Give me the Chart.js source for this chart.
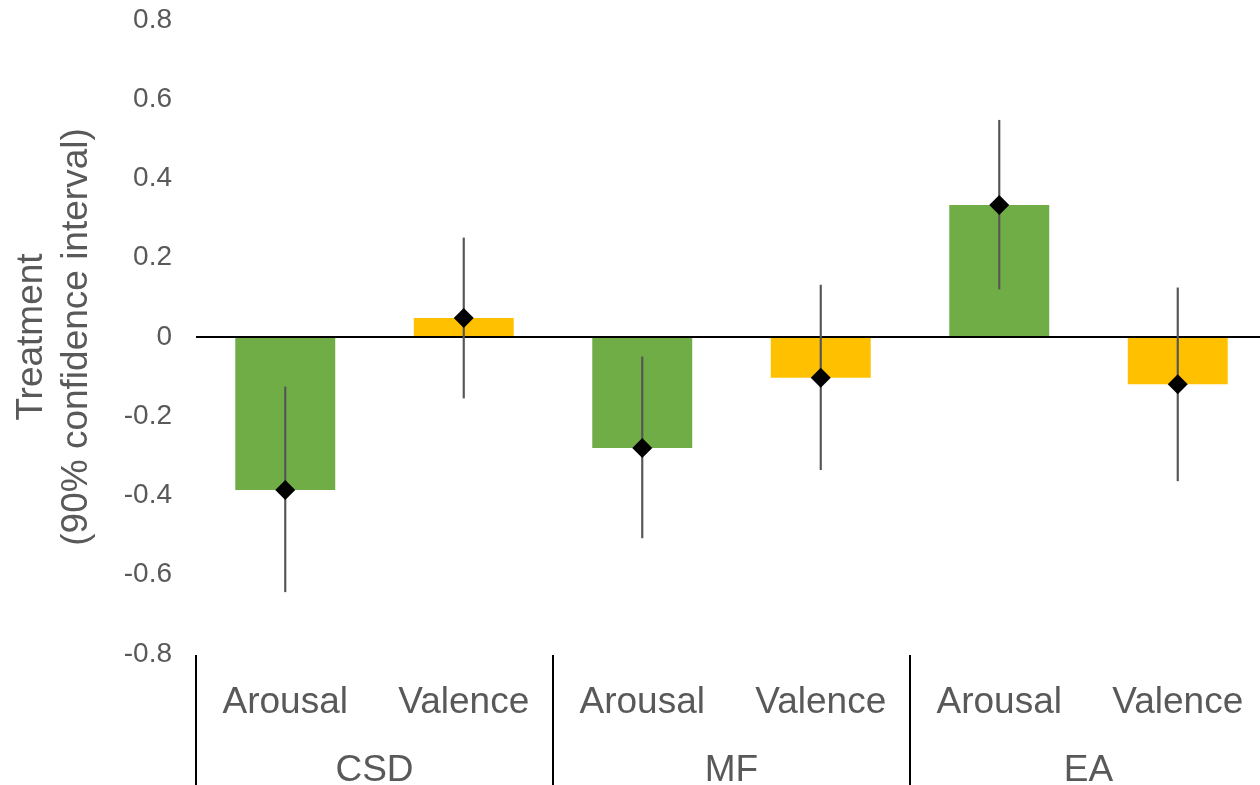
<!DOCTYPE html>
<html>
<head>
<meta charset="utf-8">
<script src="https://cdn.jsdelivr.net/npm/chart.js@4.4.1/dist/chart.umd.min.js"></script>
<style>
  html, body { margin: 0; padding: 0; overflow: hidden; background: #fff; }
  #wrap { width: 1268px; height: 785px; }
</style>
</head>
<body>
<div id="wrap"><canvas id="myChart" width="1268" height="785"></canvas></div>
<script>
// data
const measures = ['Arousal', 'Valence', 'Arousal', 'Valence', 'Arousal', 'Valence'];
const groups = ['CSD', 'MF', 'EA'];
const estimates = [-0.386, 0.048, -0.280, -0.103, 0.333, -0.119];
const ciLow = [-0.643, -0.154, -0.507, -0.335, 0.121, -0.363];
const ciHigh = [-0.126, 0.250, -0.050, 0.131, 0.547, 0.124];
const yTicks = [-0.8, -0.6, -0.4, -0.2, 0, 0.2, 0.4, 0.6, 0.8];

const GREEN = '#70AD47';
const YELLOW = '#FFC000';
const TEXT = '#595959';
const FONT = "'Liberation Sans', Arial, sans-serif";

// vertical separators between the groups, below the plot
const groupDividers = {
    id: 'groupDividers',
    afterDraw(chart) {
        const x2 = chart.scales.x2;
        const ctx = chart.ctx;
        const step = (x2.right - x2.left) / groups.length;
        ctx.save();
        ctx.strokeStyle = '#000';
        ctx.lineWidth = 2;
        for (let i = 0; i <= groups.length; i++) {
            const px = Math.round(x2.left + step * i);
            ctx.beginPath();
            ctx.moveTo(px, chart.chartArea.bottom + 1);
            ctx.lineTo(px, chart.height);
            ctx.stroke();
        }
        ctx.restore();
    }
};

function fixXAxis(height) {
    return scale => {
        scale.height = height;
        scale.paddingLeft = 0;
        scale.paddingRight = 0;
    };
}

const ctx = document.getElementById('myChart').getContext('2d');
new Chart(ctx, {
    type: 'bar',
    data: {
        labels: measures,
        datasets: [
            {
                type: 'line',
                label: 'Estimate',
                data: estimates,
                showLine: false,
                pointStyle: 'rectRot',
                pointRadius: 10,
                pointBackgroundColor: '#000',
                pointBorderColor: '#000',
                pointBorderWidth: 0,
                order: 0
            },
            {
                label: '90% CI',
                data: ciLow.map((lo, i) => [lo, ciHigh[i]]),
                backgroundColor: '#555',
                barThickness: 1.5,
                grouped: false,
                order: 1
            },
            {
                label: 'Treatment',
                data: estimates,
                backgroundColor: measures.map(m => m === 'Arousal' ? GREEN : YELLOW),
                categoryPercentage: 1,
                barPercentage: 0.56,
                grouped: false,
                order: 2
            }
        ]
    },
    options: {
        responsive: false,
        animation: false,
        layout: { autoPadding: false, padding: { top: 20, right: 1, left: 0, bottom: 0 } },
        plugins: {
            legend: { display: false },
            tooltip: { enabled: false }
        },
        scales: {
            y: {
                min: -0.8,
                max: 0.8,
                z: 1,
                afterBuildTicks: scale => { scale.ticks = yTicks.map(v => ({ value: v })); },
                afterFit: scale => {
                    scale.width = 196;
                    scale.paddingTop = 0;
                    scale.paddingBottom = 0;
                },
                border: { display: false },
                grid: {
                    drawTicks: false,
                    lineWidth: 2,
                    color: c => Math.abs(c.tick.value) < 1e-9 ? '#000' : 'rgba(0,0,0,0)'
                },
                ticks: {
                    padding: 24,
                    color: TEXT,
                    font: { family: FONT, size: 28 },
                    callback: v => Number(v.toFixed(1)).toString()
                },
                title: {
                    display: true,
                    text: ['Treatment', '(90% confidence interval)'],
                    color: TEXT,
                    font: { family: FONT, size: 37 },
                    padding: { top: 10, bottom: 0 }
                }
            },
            x: {
                weight: 0,
                offset: true,
                afterFit: fixXAxis(68),
                border: { display: false },
                grid: { display: false, drawTicks: false },
                ticks: {
                    padding: 27,
                    autoSkip: false,
                    maxRotation: 0,
                    color: TEXT,
                    font: { family: FONT, size: 37 }
                }
            },
            x2: {
                type: 'category',
                position: 'bottom',
                weight: 1,
                offset: true,
                labels: groups,
                afterFit: fixXAxis(63),
                border: { display: false },
                grid: { display: false, drawTicks: false },
                ticks: {
                    padding: 27,
                    autoSkip: false,
                    maxRotation: 0,
                    color: TEXT,
                    font: { family: FONT, size: 37 }
                }
            }
        }
    },
    plugins: [groupDividers]
});
</script>
</body>
</html>
